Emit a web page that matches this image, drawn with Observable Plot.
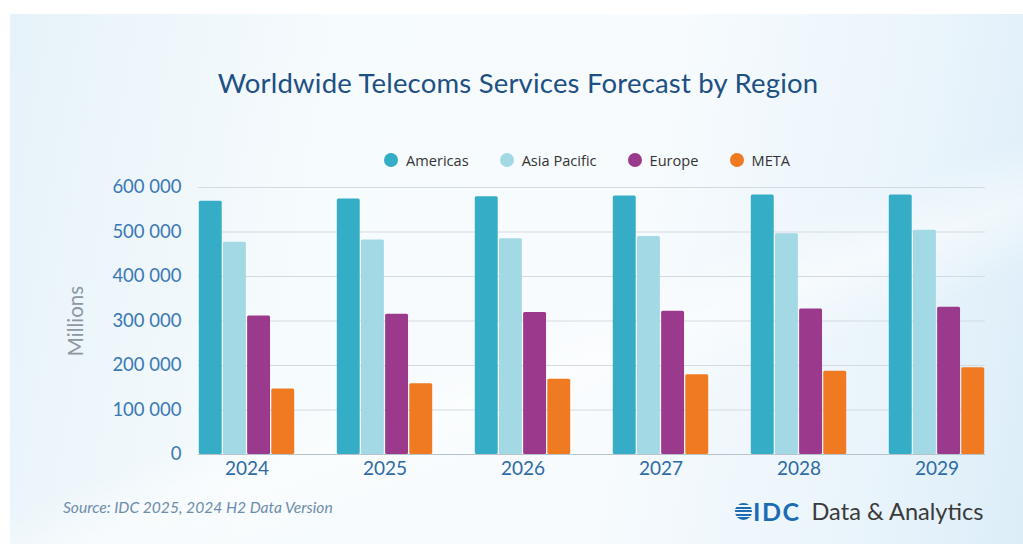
<!DOCTYPE html>
<html>
<head>
<meta charset="utf-8">
<script src="https://cdn.jsdelivr.net/npm/d3@7"></script>
<script src="https://cdn.jsdelivr.net/npm/@observablehq/plot@0.6"></script>
<style>
  html, body { margin: 0; padding: 0; background: #ffffff; }
  #wrap { position: relative; width: 1023px; height: 544px; overflow: hidden; background: #ffffff; font-family: Lato, sans-serif; }
  #card { position: absolute; left: 10px; top: 14px; right: 0; bottom: 0;
    background:
      linear-gradient(160deg, rgba(255,255,255,0) 55%, rgba(255,255,255,0.5) 62%, rgba(255,255,255,0) 70%),
      linear-gradient(100deg, #e6f2f9 0%, #f6fbfd 30%, #f7fbfe 60%, #e9f4fb 85%, #dcedf8 100%); }
  #title { position: absolute; left: 0; width: 1036px; top: 66px; text-align: center; font-size: 27.5px; color: #1d5083; letter-spacing: 0.2px; line-height: 34px; }
  #legend { position: absolute; left: 384px; top: 149px; height: 22px; display: flex; align-items: center; gap: 31px; font-family: "Open Sans", sans-serif; font-size: 14.6px; color: #333; }
  .item { display: flex; align-items: center; }
  .dot { width: 14px; height: 14px; border-radius: 50%; margin-right: 8px; }
  #ylabel { position: absolute; left: 15px; width: 120px; top: 309px; text-align: center; transform: rotate(-90deg); font-size: 20.5px; color: #8c979f; line-height: 24px; }
  #chart { position: absolute; left: 0; top: 0; }
  #source { position: absolute; left: 63px; top: 497px; font-size: 15.6px; font-style: italic; color: #6d8cab; line-height: 20px; }
  #logo { position: absolute; left: 735px; top: 497px; height: 28px; display: flex; align-items: center; }
  #logo .mark { width: 17px; height: 17px; border-radius: 50%; margin-right: 1px;
    background: repeating-linear-gradient(180deg, #1b6cb3 0px, #1b6cb3 2.2px, transparent 2.2px, transparent 3.6px); }
  #logo .idc { font-family: Lato, sans-serif; font-weight: 700; font-size: 25px; color: #1b6cb3; letter-spacing: 1.5px; margin-right: 11px; }
  #logo .da { font-size: 23.6px; color: #3a3a3a; }
</style>
</head>
<body>
<div id="wrap">
  <div id="card"></div>
  <div id="title"></div>
  <div id="legend"></div>
  <div id="ylabel">Millions</div>
  <div id="chart"></div>
  <div id="source">Source: IDC 2025, 2024 H2 Data Version</div>
  <div id="logo"><span class="mark"></span><span class="idc">IDC</span><span class="da">Data &amp; Analytics</span></div>
</div>
<script>
const titleText = "Worldwide Telecoms Services Forecast by Region";
const years = ["2024", "2025", "2026", "2027", "2028", "2029"];
const regions = ["Americas", "Asia Pacific", "Europe", "META"];
const americas    = [569000, 574000, 579000, 581000, 583000, 583000];
const asiaPacific = [477000, 482000, 485000, 490000, 496000, 504000];
const europe      = [311000, 315000, 319000, 322000, 327000, 331000];
const meta        = [147000, 159000, 169000, 179000, 187000, 195000];
const regionColors = ["#35adc6", "#a3d9e5", "#9b3a8d", "#f07a21"];
const yTicks = [0, 100000, 200000, 300000, 400000, 500000, 600000];

const seriesValues = [americas, asiaPacific, europe, meta];
const data = [];
regions.forEach((r, i) => years.forEach((y, j) => data.push({year: y, region: r, value: seriesValues[i][j]})));

document.getElementById("title").textContent = titleText;
const legend = document.getElementById("legend");
regions.forEach((r, i) => {
  const it = document.createElement("div");
  it.className = "item";
  const d = document.createElement("span");
  d.className = "dot";
  d.style.background = regionColors[i];
  const t = document.createElement("span");
  t.textContent = r;
  it.appendChild(d); it.appendChild(t);
  legend.appendChild(it);
});

const W = 1023, H = 544;
const mL = 198, mR = 38, mT = 187, mB = 90;
const padInner = 0.3;
const band = d3.scaleBand().domain(years).range([mL, W - mR]).paddingInner(padInner).paddingOuter(0);
const slot = band.bandwidth() / regions.length;
const gap = 0.8;

const fmt = d => d3.format(",")(d).replace(/,/g, " ");

const chart = Plot.plot({
  width: W, height: H,
  marginLeft: mL, marginRight: mR, marginTop: mT, marginBottom: mB,
  style: {background: "transparent", fontFamily: "Lato, sans-serif", overflow: "visible"},
  x: {domain: years, paddingInner: padInner, paddingOuter: 0, align: 0.5},
  y: {domain: [0, 600000]},
  color: {domain: regions, range: regionColors},
  marks: [
    Plot.ruleY(yTicks.slice(1), {stroke: "#d3dbe1", strokeWidth: 1.2}),
    ...regions.map((r, i) => Plot.barY(data.filter(d => d.region === r), {
      x: "year", y: "value", fill: "region",
      insetLeft: i * slot + gap, insetRight: (regions.length - 1 - i) * slot + gap,
      rx: 1.5
    })),
    Plot.ruleY([0], {stroke: "#b8c2c9", strokeWidth: 1.2}),
    Plot.axisY(yTicks, {tickSize: 0, tickPadding: 17, tickFormat: fmt, fill: "#3a78b5", fontSize: 18.5, label: null}),
    Plot.axisX({tickSize: 0, tickPadding: 7, fill: "#2e6aa6", fontSize: 19, label: null})
  ]
});
document.getElementById("chart").appendChild(chart);
</script>
</body>
</html>
